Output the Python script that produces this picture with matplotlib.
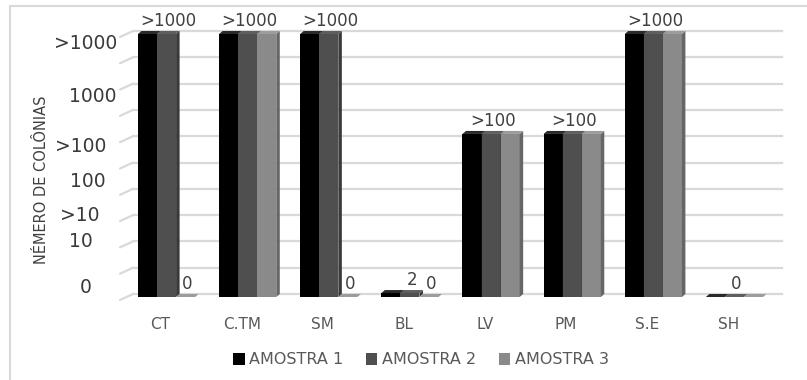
import matplotlib
matplotlib.use("Agg")
import matplotlib.pyplot as plt
from matplotlib.patches import Polygon, Patch, Rectangle, ConnectionPatch
from matplotlib.transforms import ScaledTranslation, blended_transform_factory

# Contagem de colônias por amostra (classes)
categorias = ["CT", "C.TM", "SM", "BL", "LV", "PM", "S.E", "SH"]
amostra1 = [">1000", ">1000", ">1000", "2", ">100", ">100", ">1000", "0"]
amostra2 = [">1000", ">1000", ">1000", "2", ">100", ">100", ">1000", "0"]
amostra3 = ["0", ">1000", "0", "0", ">100", ">100", ">1000", "0"]
series = [amostra1, amostra2, amostra3]
nomes = ["AMOSTRA 1", "AMOSTRA 2", "AMOSTRA 3"]

# altura de cada classe na escala do eixo (0 a 10)
nivel = {"0": 0.0, "2": 0.15, ">100": 6.2, ">1000": 10.0}

# rótulos do eixo vertical e onde ficam
eixo_rotulos = [">1000", "1000", ">100", "100", ">10", "10", "0"]
eixo_niveis = [9.75, 7.72, 5.82, 4.49, 3.23, 2.24, 0.46]
eixo_px = [86, 93, 81, 88, 80, 81, 86]

frente = ["#000000", "#4f4f4f", "#8a8a8a"]
lado = ["#1c1c1c", "#3a3a3a", "#666666"]
topo = ["#2a2a2a", "#5e5e5e", "#9c9c9c"]

W, H = 807, 380
fig = plt.figure(figsize=(W / 100, H / 100), dpi=100)
ax = fig.add_axes([120 / W, 80 / H, 649 / W, 263 / H])
ax.set_xlim(-0.5, 7.5)
ax.set_ylim(0, 10)
for s in ax.spines.values():
    s.set_visible(False)
ax.set_yticks([])
ax.set_xticks(range(len(categorias)), categorias)
ax.tick_params(axis="x", length=0, pad=12, labelsize=11, labelcolor="#595959")
ax.patch.set_visible(False)

ppx = 649 / 8.0
ppy = 263 / 10.0
fundo = ax.transData + ScaledTranslation(13 / 100, 6 / 100, fig.dpi_scale_trans)
desl = ax.transData + ScaledTranslation(6 / 100, 3 / 100, fig.dpi_scale_trans)

# parede do fundo: linhas de grade e arestas laterais
for y in range(11):
    ax.plot([-0.5, 7.5], [y, y], transform=fundo, color="#d9d9d9", lw=1.6,
            clip_on=False, zorder=0)
    cp = ConnectionPatch((-0.5, y), (-0.5, y), coordsA=ax.transData, coordsB=fundo,
                         color="#d9d9d9", lw=1.6, zorder=0)
    ax.add_artist(cp)

# colunas 3D
w = 0.235
dX = 3.5 / ppx
dY = 3.0 / ppy
xs = list(range(len(categorias)))
for k, serie in enumerate(series):
    alturas = [nivel[v] for v in serie]
    pos = [x + (k - 1) * w for x in xs]
    ax.bar(pos, alturas, w, color=frente[k], transform=desl, zorder=2 + k,
           clip_on=False, linewidth=0)
    for x, h in zip(pos, alturas):
        x0, x1 = x - w / 2, x + w / 2
        ax.add_patch(Polygon([(x1, 0), (x1, h), (x1 + dX, h + dY), (x1 + dX, dY)],
                             transform=desl, fc=lado[k], ec="none",
                             zorder=2.5 + k, clip_on=False))
        ax.add_patch(Polygon([(x0, h), (x1, h), (x1 + dX, h + dY), (x0 + dX, h + dY)],
                             transform=desl, fc=topo[k], ec="none",
                             zorder=2.5 + k, clip_on=False))

# rótulos de dados
def rotulo(x, valor):
    ax.annotate(valor, xy=(x + dX / 2, nivel[valor] + dY), xycoords=desl,
                xytext=(0, 3.5), textcoords="offset points", ha="center",
                va="baseline", fontsize=12, color="#404040", zorder=10,
                annotation_clip=False)

for i in xs:
    rotulo(i, amostra2[i])
    if amostra3[i] != amostra2[i]:
        rotulo(i + w, amostra3[i])

# eixo vertical
tr = blended_transform_factory(fig.transFigure, ax.transData)
for txt, lv, px in zip(eixo_rotulos, eixo_niveis, eixo_px):
    ax.text(px / W, lv, txt, transform=tr, ha="center", va="center",
            fontsize=13.5, color="#3a3a3a", clip_on=False)

fig.text(42 / W, 1 - 180 / H, "NÉMERO DE COLÔNIAS", rotation=90, ha="center",
         va="center", fontsize=10.5, color="#404040")

handles = [Patch(fc=c, ec="none") for c in frente]
fig.legend(handles, nomes, loc="center", bbox_to_anchor=(421 / W, 1 - 360 / H),
           ncol=3, frameon=False, handlelength=0.7, handleheight=0.7,
           handletextpad=0.3, columnspacing=1.4, fontsize=11.5, labelcolor="#595959")

# moldura do gráfico
fig.add_artist(Rectangle((10 / W, -0.1), 1.2, (H - 6) / H + 0.1, transform=fig.transFigure,
                         fill=False, ec="#d9d9d9", lw=1.5))

fig.savefig("out.png", dpi=100)
